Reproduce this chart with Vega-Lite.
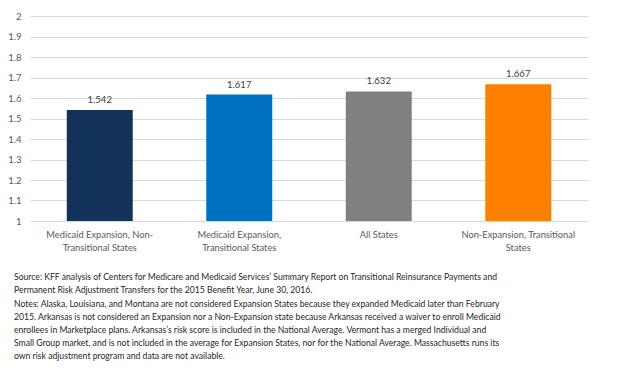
{
  "$schema": "https://vega.github.io/schema/vega-lite/v6.json",
  "autosize": {"type": "none"},
  "width": 558,
  "height": 205,
  "padding": {"left": 30, "top": 16, "right": 42, "bottom": 166},
  "background": "white",
  "config": {
    "font": "Lato",
    "view": {"stroke": null}
  },
  "title": {
    "text": [
      "Source: KFF analysis of Centers for Medicare and Medicaid Services’ Summary Report on Transitional Reinsurance Payments and",
      "Permanent Risk Adjustment Transfers for the 2015 Benefit Year, June 30, 2016.",
      "Notes: Alaska, Louisiana, and Montana are not considered Expansion States because they expanded Medicaid later than February",
      "2015. Arkansas is not considered an Expansion nor a Non-Expansion state because Arkansas received a waiver to enroll Medicaid",
      "enrollees in Marketplace plans. Arkansas’s risk score is included in the National Average. Vermont has a merged Individual and",
      "Small Group market, and is not included in the average for Expansion States, nor for the National Average. Massachusetts runs its",
      "own risk adjustment program and data are not available."
    ],
    "orient": "bottom",
    "anchor": "start",
    "frame": "group",
    "dx": -16,
    "offset": 21,
    "font": "Lato",
    "fontSize": 8.65,
    "fontWeight": "normal",
    "color": "#262626",
    "lineHeight": 13.2,
    "baseline": "top"
  },
  "data": {
    "values": [
      {"group": "Medicaid Expansion, Non-Transitional States", "score": 1.542},
      {"group": "Medicaid Expansion, Transitional States", "score": 1.617},
      {"group": "All States", "score": 1.632},
      {"group": "Non-Expansion, Transitional States", "score": 1.667}
    ]
  },
  "encoding": {
    "x": {
      "field": "group",
      "type": "nominal",
      "sort": null,
      "scale": {"paddingInner": 0.527, "paddingOuter": 0.2635},
      "axis": {
        "title": null,
        "labelAngle": 0,
        "ticks": false,
        "domain": false,
        "labelPadding": 9,
        "labelFontSize": 9.3,
        "labelColor": "#595959",
        "labelLineHeight": 13,
        "labelExpr": "datum.value == 'Medicaid Expansion, Non-Transitional States' ? ['Medicaid Expansion, Non-', 'Transitional States'] : datum.value == 'Medicaid Expansion, Transitional States' ? ['Medicaid Expansion,', 'Transitional States'] : datum.value == 'Non-Expansion, Transitional States' ? ['Non-Expansion, Transitional', 'States'] : datum.value"
      }
    },
    "y": {
      "field": "score",
      "type": "quantitative",
      "scale": {"domain": [1, 2], "zero": false, "nice": false},
      "axis": {
        "title": null,
        "values": [1, 1.1, 1.2, 1.3, 1.4, 1.5, 1.6, 1.7, 1.8, 1.9, 2],
        "format": ".1~f",
        "ticks": false,
        "domain": false,
        "labelPadding": 9,
        "labelFontSize": 9.5,
        "labelColor": "#595959",
        "gridColor": "#d9d9d9",
        "gridWidth": 1
      }
    }
  },
  "layer": [
    {
      "mark": {"type": "bar", "clip": true},
      "encoding": {
        "y2": {"datum": 1},
        "color": {
          "field": "group",
          "type": "nominal",
          "legend": null,
          "scale": {
            "domain": ["Medicaid Expansion, Non-Transitional States", "Medicaid Expansion, Transitional States", "All States", "Non-Expansion, Transitional States"],
            "range": ["#12325a", "#0070c0", "#808080", "#ff8000"]
          }
        }
      }
    },
    {
      "mark": {"type": "text", "baseline": "bottom", "dy": -5, "fontSize": 9.5, "color": "#404040"},
      "encoding": {
        "text": {"field": "score", "type": "quantitative", "format": ".3f"}
      }
    }
  ]
}
